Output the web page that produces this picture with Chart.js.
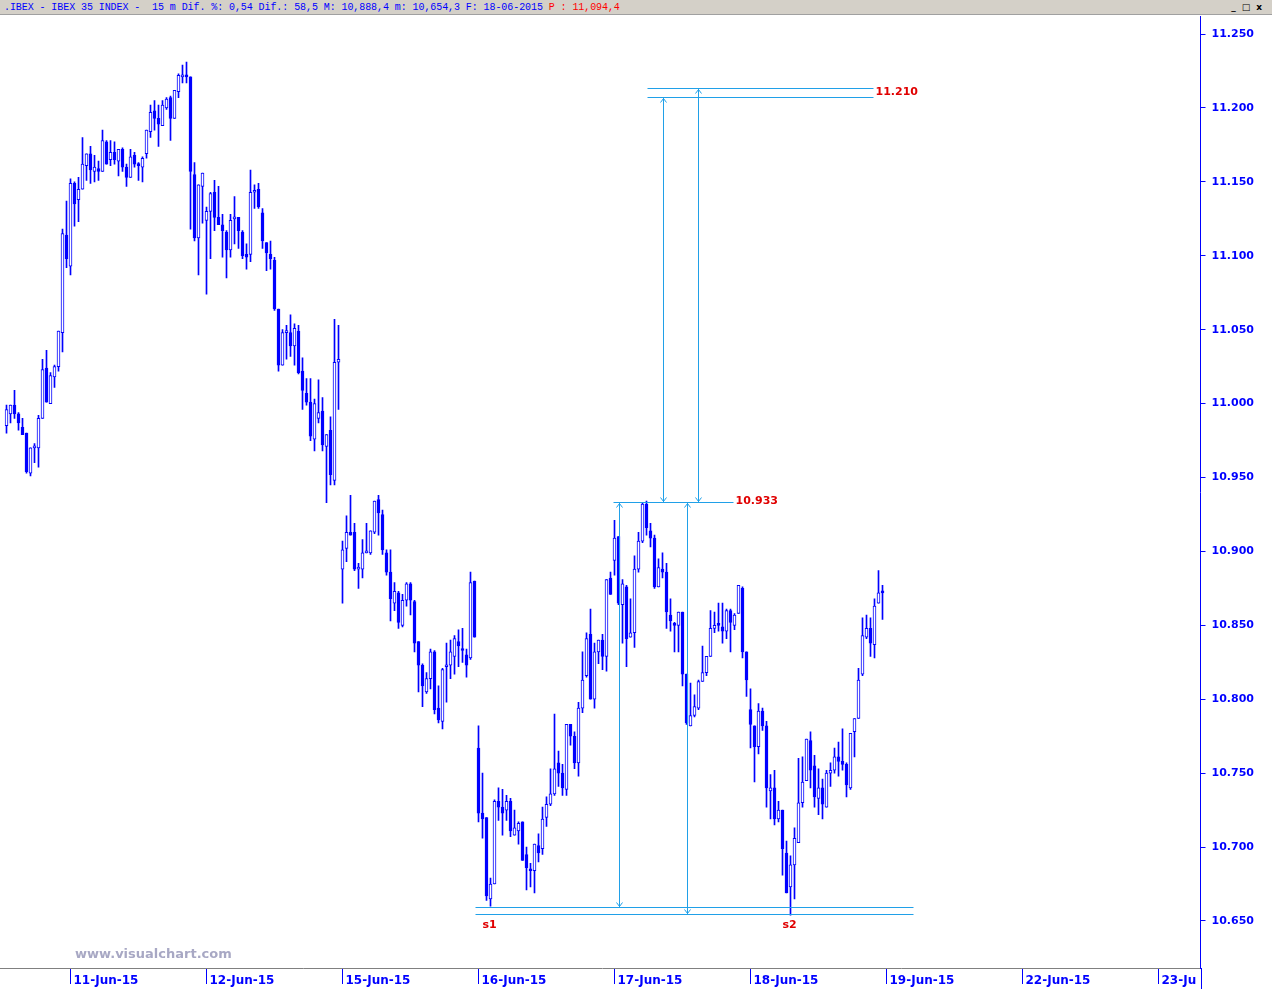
<!DOCTYPE html>
<html>
<head>
<meta charset="utf-8">
<script src="https://cdn.jsdelivr.net/npm/chart.js@4.4.1/dist/chart.umd.min.js"></script>
<style>
  body { margin: 0; width: 1272px; height: 989px; overflow: hidden; background: #fff; }
  #head { position: absolute; left: 0; top: 0; width: 1272px; height: 15px; background: #d4d0c8;
          border-bottom: 1px solid #a0a0a0; font: 10px "Liberation Mono", "DejaVu Sans Mono", monospace;
          letter-spacing: -0.08px; line-height: 15px; color: #0000ff; white-space: pre; padding-left: 4px; box-sizing: border-box; }
  #head .p { color: #ff0000; }
  #btns { position: absolute; right: 4px; top: 2px; font: bold 9px "DejaVu Sans", sans-serif; color: #000; letter-spacing: 6px; }
  #wrap { position: absolute; left: 0; top: 16px; width: 1272px; height: 973px; }
  #mark { position: absolute; left: 75px; top: 946px; font: bold 13px "DejaVu Sans", sans-serif; color: #a8a8c4; }
</style>
</head>
<body>
<div id="head"><span>.IBEX - IBEX 35 INDEX -  15 m Dif. %: 0,54 Dif.: 58,5 M: 10,888,4 m: 10,654,3 F: 18-06-2015 </span><span class="p">P : 11,094,4</span><span id="btns">_□x</span></div>
<div id="wrap"><canvas id="chart"></canvas></div>
<div id="mark">www.visualchart.com</div>
<script>
// dias visibles (10-Jun solo parcialmente, 16 barras)
const dayLabels = ['11-Jun-15', '12-Jun-15', '15-Jun-15', '16-Jun-15', '17-Jun-15', '18-Jun-15', '19-Jun-15', '22-Jun-15', '23-Jun-15'];
const firstDayBar = 16;
const barsPerDay = 34;
const slotCount = 299;

const opens = [
  10985, 10993, 10999, 10993, 10984, 10980, 10953, 10970, 10970, 10990,
  11024, 11000, 11018, 11025, 11048, 11114, 11093, 11149, 11138, 11145,
  11161, 11169, 11157, 11159, 11157, 11177, 11165, 11170, 11164, 11172,
  11160, 11153, 11168, 11162, 11160, 11169, 11184, 11198, 11193, 11188,
  11200, 11207, 11193, 11211, 11221, 11222, 11221, 11155, 11112, 11147,
  11124, 11130, 11143, 11126, 11121, 11116, 11104, 11125, 11126, 11116,
  11101, 11101, 11143, 11145, 11129, 11109, 11101, 11097, 11064, 11026,
  11048, 11048, 11039, 11049, 11022, 11007, 11001, 10976, 10990, 10995,
  10971, 10982, 10948, 11028, 10888, 10902, 10913, 10913, 10888, 10888,
  10899, 10899, 10913, 10935, 10925, 10899, 10886, 10865, 10872, 10850,
  10867, 10878, 10866, 10839, 10823, 10805, 10814, 10832, 10794, 10785,
  10822, 10823, 10829, 10839, 10834, 10830, 10828, 10880, 10767, 10723,
  10720, 10665, 10675, 10731, 10727, 10725, 10731, 10708, 10711, 10717,
  10695, 10685, 10684, 10701, 10699, 10720, 10729, 10736, 10757, 10750,
  10739, 10783, 10775, 10757, 10794, 10816, 10844, 10800, 10832, 10840,
  10829, 10882, 10894, 10910, 10864, 10876, 10842, 10845, 10888, 10907,
  10932, 10914, 10909, 10876, 10888, 10886, 10857, 10851, 10850, 10859,
  10817, 10782, 10789, 10794, 10812, 10818, 10829, 10848, 10851, 10849,
  10846, 10860, 10850, 10858, 10875, 10832, 10793, 10782, 10768, 10792,
  10782, 10738, 10740, 10719, 10725, 10696, 10673, 10688, 10703, 10730,
  10745, 10772, 10755, 10733, 10740, 10727, 10750, 10752, 10761, 10758,
  10756, 10740, 10778, 10787, 10817, 10842, 10848, 10837, 10865, 10873
];
const highs = [
  10999, 10999, 11009, 10994, 10990, 10980, 10970, 10973, 10992, 11030,
  11036, 11021, 11026, 11049, 11118, 11137, 11152, 11150, 11153, 11180,
  11169, 11174, 11168, 11164, 11185, 11178, 11178, 11177, 11172, 11173,
  11162, 11172, 11170, 11163, 11167, 11185, 11202, 11205, 11202, 11205,
  11207, 11208, 11212, 11223, 11229, 11231, 11221, 11163, 11148, 11156,
  11133, 11143, 11151, 11147, 11128, 11117, 11128, 11140, 11126, 11117,
  11108, 11158, 11148, 11149, 11132, 11109, 11110, 11099, 11064, 11050,
  11053, 11060, 11054, 11053, 11031, 11017, 11017, 11003, 11016, 11004,
  10979, 10991, 11057, 11053, 10907, 10924, 10938, 10919, 10892, 10908,
  10919, 10914, 10934, 10938, 10928, 10901, 10901, 10879, 10873, 10871,
  10879, 10879, 10867, 10839, 10824, 10818, 10834, 10833, 10809, 10821,
  10838, 10840, 10843, 10847, 10848, 10834, 10886, 10880, 10782, 10750,
  10720, 10679, 10732, 10740, 10739, 10735, 10733, 10725, 10717, 10717,
  10700, 10689, 10702, 10709, 10727, 10734, 10753, 10790, 10765, 10756,
  10783, 10783, 10778, 10798, 10832, 10845, 10861, 10838, 10840, 10844,
  10881, 10886, 10921, 10910, 10881, 10877, 10868, 10897, 10913, 10933,
  10934, 10919, 10911, 10895, 10899, 10892, 10868, 10852, 10859, 10859,
  10817, 10811, 10803, 10813, 10836, 10829, 10860, 10859, 10865, 10865,
  10861, 10861, 10858, 10877, 10876, 10832, 10807, 10782, 10797, 10794,
  10785, 10749, 10752, 10731, 10725, 10704, 10694, 10713, 10760, 10761,
  10773, 10778, 10762, 10753, 10746, 10752, 10757, 10767, 10771, 10780,
  10757, 10777, 10787, 10821, 10855, 10857, 10855, 10868, 10887, 10877
];
const lows = [
  10980, 10987, 10990, 10982, 10979, 10953, 10951, 10960, 10957, 10990,
  11001, 11000, 11011, 11022, 11035, 11092, 11087, 11120, 11123, 11145,
  11151, 11149, 11150, 11151, 11157, 11162, 11161, 11162, 11154, 11157,
  11147, 11153, 11160, 11151, 11150, 11166, 11180, 11185, 11174, 11188,
  11199, 11178, 11193, 11207, 11217, 11217, 11118, 11110, 11087, 11122,
  11074, 11098, 11117, 11121, 11099, 11085, 11099, 11108, 11105, 11098,
  11091, 11096, 11132, 11132, 11105, 11090, 11091, 11063, 11022, 11026,
  11030, 11032, 11026, 11020, 10996, 10999, 10975, 10968, 10987, 10968,
  10933, 10945, 10945, 10996, 10865, 10893, 10911, 10887, 10875, 10882,
  10899, 10898, 10912, 10911, 10898, 10884, 10853, 10860, 10848, 10849,
  10863, 10857, 10832, 10805, 10795, 10804, 10807, 10790, 10784, 10780,
  10798, 10814, 10817, 10822, 10825, 10815, 10827, 10842, 10717, 10706,
  10664, 10660, 10675, 10718, 10708, 10718, 10707, 10708, 10702, 10691,
  10671, 10673, 10669, 10690, 10695, 10714, 10728, 10735, 10741, 10735,
  10735, 10769, 10753, 10748, 10791, 10815, 10800, 10794, 10824, 10820,
  10819, 10871, 10884, 10864, 10838, 10822, 10842, 10835, 10886, 10906,
  10911, 10903, 10875, 10876, 10882, 10848, 10846, 10832, 10832, 10809,
  10783, 10782, 10788, 10793, 10812, 10816, 10829, 10845, 10846, 10838,
  10841, 10832, 10847, 10858, 10828, 10802, 10767, 10744, 10763, 10779,
  10727, 10719, 10715, 10717, 10681, 10669, 10654, 10665, 10703, 10727,
  10745, 10740, 10727, 10722, 10719, 10727, 10741, 10750, 10748, 10752,
  10734, 10739, 10761, 10787, 10816, 10841, 10829, 10828, 10865, 10854
];
const closes = [
  10996, 10999, 10993, 10987, 10979, 10954, 10970, 10971, 10990, 11023,
  11001, 11019, 11025, 11049, 11115, 11098, 11149, 11135, 11145, 11162,
  11169, 11158, 11160, 11157, 11178, 11162, 11170, 11165, 11172, 11160,
  11153, 11167, 11162, 11161, 11166, 11185, 11197, 11193, 11189, 11202,
  11206, 11193, 11212, 11222, 11222, 11221, 11157, 11112, 11148, 11156,
  11130, 11142, 11126, 11121, 11117, 11104, 11124, 11125, 11117, 11100,
  11099, 11143, 11144, 11133, 11110, 11102, 11098, 11064, 11026, 11048,
  11049, 11039, 11051, 11021, 11009, 11001, 10978, 11000, 10994, 10972,
  10979, 10952, 11028, 11030, 10901, 10913, 10911, 10888, 10888, 10899,
  10900, 10914, 10934, 10926, 10901, 10886, 10868, 10873, 10852, 10867,
  10878, 10867, 10838, 10823, 10809, 10814, 10832, 10793, 10786, 10820,
  10823, 10832, 10841, 10836, 10833, 10823, 10879, 10842, 10723, 10719,
  10667, 10675, 10731, 10727, 10723, 10731, 10711, 10713, 10716, 10691,
  10686, 10684, 10702, 10696, 10719, 10729, 10736, 10753, 10750, 10740,
  10783, 10775, 10757, 10794, 10813, 10841, 10800, 10832, 10840, 10829,
  10881, 10871, 10909, 10865, 10878, 10841, 10845, 10888, 10907, 10932,
  10916, 10909, 10876, 10889, 10886, 10859, 10853, 10850, 10859, 10817,
  10784, 10789, 10795, 10812, 10818, 10829, 10848, 10850, 10850, 10846,
  10860, 10852, 10857, 10877, 10832, 10813, 10783, 10768, 10792, 10782,
  10740, 10740, 10719, 10725, 10699, 10669, 10688, 10706, 10730, 10744,
  10773, 10752, 10734, 10740, 10729, 10750, 10752, 10761, 10758, 10756,
  10742, 10777, 10787, 10813, 10843, 10848, 10838, 10863, 10872, 10872
];

const yTicks = [10650, 10700, 10750, 10800, 10850, 10900, 10950, 11000, 11050, 11100, 11150, 11200, 11250];

// niveles dibujados a mano en el grafico (objetivo, resistencia, soportes s1/s2)
const levelValues = [11213.5, 11207.4, 10933.7, 10659.3, 10654.4];
const levelTexts = ['11.210', '10.933', 's1', 's2'];

const blue = '#0000ff';
const cyan = '#20a0e8';
const red = '#e00000';

// etiquetas del eje x: fecha en la primera barra de cada dia
const labels = [];
for (let i = 0; i < slotCount; i++) {
  const d = (i - firstDayBar) / barsPerDay;
  labels.push(i >= firstDayBar && Number.isInteger(d) && d < dayLabels.length ? dayLabels[d] : '');
}

const bodies = opens.map((o, i) => [Math.min(o, closes[i]), Math.max(o, closes[i])]);
const wicks = lows.map((l, i) => [l, highs[i]]);
const bodyColors = opens.map((o, i) => closes[i] >= o ? '#ffffff' : blue);

const drawings = {
  id: 'drawings',
  afterDatasetsDraw(chart) {
    const { ctx, scales: { x, y } } = chart;
    const px = i => Math.round(x.getPixelForValue(i)) + 0.5;
    const py = v => Math.round(y.getPixelForValue(v)) + 0.5;
    ctx.save();
    ctx.strokeStyle = cyan;
    ctx.lineWidth = 1;

    const hline = (v, a, b) => {
      ctx.beginPath(); ctx.moveTo(px(a), py(v)); ctx.lineTo(px(b), py(v)); ctx.stroke();
    };
    hline(levelValues[0], 160, 216.5);
    hline(levelValues[1], 160, 216.5);
    hline(levelValues[2], 151.5, 181.5);
    hline(levelValues[3], 117, 226.5);
    hline(levelValues[4], 117, 226.5);

    const arrow = (i, v1, v2) => {
      const xx = px(i), ya = py(v1), yb = py(v2);
      ctx.beginPath(); ctx.moveTo(xx, ya); ctx.lineTo(xx, yb); ctx.stroke();
      ctx.beginPath();
      ctx.moveTo(xx - 3, ya + 5); ctx.lineTo(xx, ya + 1); ctx.lineTo(xx + 3, ya + 5);
      ctx.moveTo(xx - 3, yb - 5); ctx.lineTo(xx, yb - 1); ctx.lineTo(xx + 3, yb - 5);
      ctx.stroke();
    };
    arrow(164, levelValues[1], levelValues[2]);
    arrow(173, levelValues[0], levelValues[2]);
    arrow(153, levelValues[2], levelValues[3]);
    arrow(170, levelValues[2], levelValues[4]);

    ctx.fillStyle = red;
    ctx.font = 'bold 11px "DejaVu Sans", sans-serif';
    ctx.textBaseline = 'middle';
    ctx.textAlign = 'left';
    ctx.fillText(levelTexts[0], px(217), y.getPixelForValue(11210.5));
    ctx.fillText(levelTexts[1], px(182), y.getPixelForValue(levelValues[2]));
    ctx.textAlign = 'center';
    ctx.fillText(levelTexts[2], px(120.5), y.getPixelForValue(10647.3));
    ctx.fillText(levelTexts[3], px(195.5), y.getPixelForValue(10647.3));
    ctx.restore();
  },
  afterDraw(chart) {
    // la ultima fecha queda cortada por el eje de precios
    const { ctx, chartArea } = chart;
    ctx.save();
    ctx.fillStyle = '#ffffff';
    ctx.fillRect(chartArea.right - 4, chartArea.bottom + 2, chart.width, chart.height);
    ctx.strokeStyle = blue;
    ctx.beginPath();
    ctx.moveTo(Math.round(chartArea.right) + 0.5, chartArea.bottom);
    ctx.lineTo(Math.round(chartArea.right) + 0.5, chart.height);
    ctx.stroke();
    // linea base hasta el borde izquierdo
    ctx.strokeStyle = '#808080';
    ctx.beginPath();
    ctx.moveTo(0, Math.round(chartArea.bottom) + 0.5);
    ctx.lineTo(chartArea.left + 1, Math.round(chartArea.bottom) + 0.5);
    ctx.stroke();
    ctx.restore();
  }
};

new Chart(document.getElementById('chart'), {
  type: 'bar',
  data: {
    labels: labels,
    datasets: [
      {
        data: bodies,
        backgroundColor: bodyColors,
        borderColor: blue,
        borderWidth: 1,
        borderSkipped: false,
        barThickness: 3,
        minBarLength: 2,
        grouped: false,
        order: 0
      },
      {
        data: wicks,
        backgroundColor: blue,
        borderWidth: 0,
        barThickness: 1,
        grouped: false,
        order: 1
      }
    ]
  },
  options: {
    responsive: true,
    maintainAspectRatio: false,
    animation: false,
    devicePixelRatio: 1,
    layout: { padding: { left: 4.5, top: 0, right: 0, bottom: 0 } },
    plugins: { legend: { display: false }, tooltip: { enabled: false } },
    scales: {
      x: {
        type: 'category',
        offset: true,
        grid: {
          drawOnChartArea: false,
          drawTicks: true,
          tickLength: 16,
          offset: false,
          color: c => (c.tick && c.tick.label) ? blue : 'rgba(0,0,0,0)'
        },
        border: { display: true, color: '#808080' },
        ticks: {
          autoSkip: false,
          maxRotation: 0,
          minRotation: 0,
          align: 'start',
          labelOffset: 3,
          padding: -10,
          color: blue,
          font: { family: 'DejaVu Sans', size: 12, weight: 'bold' }
        },
        afterFit: s => { s.height = 21; s.paddingLeft = 0; s.paddingRight = 0; }
      },
      y: {
        position: 'right',
        min: 10618.2,
        max: 11262.2,
        afterBuildTicks: s => { s.ticks = yTicks.map(v => ({ value: v })); },
        grid: { drawOnChartArea: false, drawTicks: true, tickLength: 5, color: blue },
        border: { color: blue },
        ticks: {
          color: blue,
          padding: 6,
          font: { family: 'DejaVu Sans', size: 11, weight: 'bold' },
          callback: v => (v / 1000).toFixed(3)
        },
        afterFit: s => { s.width = 71.5; s.paddingTop = 0; s.paddingBottom = 0; }
      }
    }
  },
  plugins: [drawings]
});
</script>
</body>
</html>
